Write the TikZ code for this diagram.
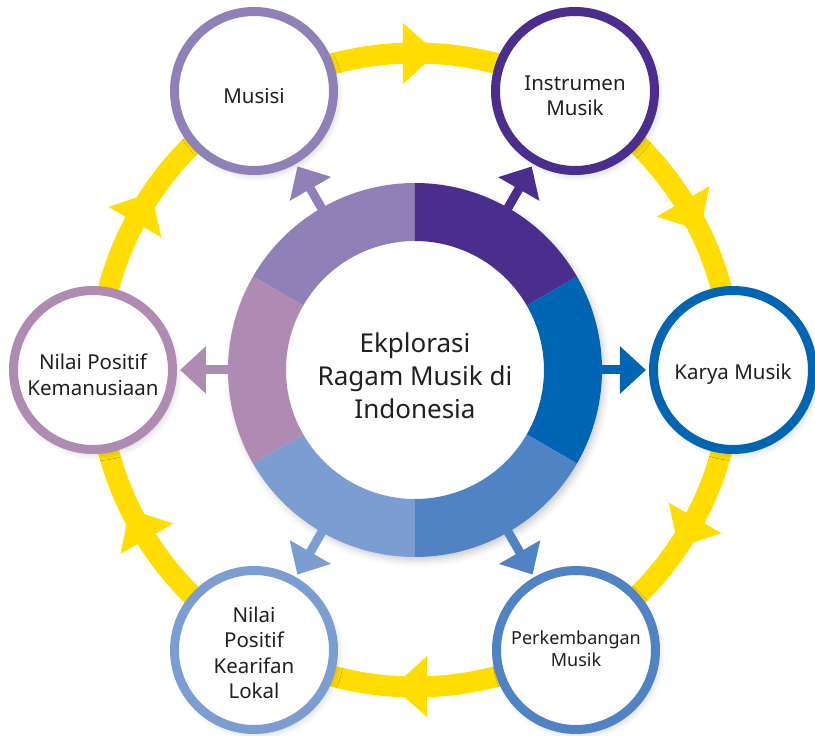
\documentclass[tikz,border=0pt]{standalone}
\usepackage{fontspec}
\setmainfont{Noto Sans}
\usetikzlibrary{arrows.meta,shadows.blur}
\definecolor{cA}{HTML}{9080B8}
\definecolor{cB}{HTML}{4A2D8D}
\definecolor{cC}{HTML}{0066B3}
\definecolor{cD}{HTML}{5083C4}
\definecolor{cE}{HTML}{7C9DD2}
\definecolor{cF}{HTML}{AF8AB3}
\definecolor{ylw}{HTML}{FFDD00}
\definecolor{txt}{HTML}{231F20}
\begin{document}
\begin{tikzpicture}[x=1pt,y=1pt,
  softshadow/.style={blur shadow={shadow xshift=3pt, shadow yshift=-4pt, shadow blur radius=7pt, shadow opacity=22}},
  outer/.style={circle, fill=white, line width=9pt, minimum size=159pt, inner sep=0pt, softshadow},
  outertxt/.style={align=center, text=txt, inner sep=0pt, font=\fontsize{20.5}{25.5}\selectfont},
  link/.style={line width=9pt, -{Triangle[width=46pt,length=26pt]}, shorten >=3pt, shorten <=-3pt},
  ringhead/.style={fill=ylw}
]
\useasboundingbox (-415,-366) rectangle (400,370);
% yellow cycle
\draw[ylw, line width=21pt] (0,0) circle[radius=317pt];
\foreach \a in {90,30,-30,-90,-150,150}
  \fill[ringhead, rotate=\a-90] (-12,286) -- (-12,347) -- (22,317) -- cycle;
% ring segments
\fill[white, softshadow] (0,0) circle[radius=186pt];
\foreach \s/\e/\c in {90/150/cA, 30/90/cB, -30/30/cC, -90/-30/cD, -150/-90/cE, 150/210/cF}
  \fill[\c] (\s:187pt) arc[start angle=\s, end angle=\e, radius=187pt] -- (\e:129pt) arc[start angle=\e, end angle=\s, radius=129pt] -- cycle;
\node[circle, minimum size=374pt, inner sep=0pt] (ctr) at (0,0) {};
\node[align=center, text=txt, inner sep=0pt, font=\fontsize{26}{33}\selectfont] (ctr-t) at ([yshift=-6pt]ctr.center) {Ekplorasi\\Ragam Musik di\\Indonesia};
% outer nodes
\node[outer, draw=cA] (musisi) at (-161,279) {};
\node[outer, draw=cB] (instr) at (160,279) {};
\node[outer, draw=cC] (karya) at (318,0) {};
\node[outer, draw=cD] (perk) at (161,-280) {};
\node[outer, draw=cE] (kear) at (-161,-280) {};
\node[outer, draw=cF] (keman) at (-322,0) {};
\node[outertxt] (musisi-t) at ([yshift=-5pt]musisi.center) {Musisi};
\node[outertxt] (instr-t) at ([yshift=-5pt]instr.center) {Instrumen\\Musik};
\node[outertxt] (karya-t) at ([yshift=-4pt]karya.center) {Karya Musik};
\node[outertxt, font=\fontsize{18}{21.5}\selectfont] (perk-t) at ([yshift=1pt]perk.center) {Perkembangan\\Musik};
\node[outertxt] (kear-t) at ([yshift=-3pt]kear.center) {Nilai\\Positif\\Kearifan\\Lokal};
\node[outertxt] (keman-t) at ([yshift=-5pt]keman.center) {Nilai Positif\\Kemanusiaan};
% links
\draw[link, cA] (ctr) -- (musisi);
\draw[link, cB] (ctr) -- (instr);
\draw[link, cC] (ctr) -- (karya);
\draw[link, cD] (ctr) -- (perk);
\draw[link, cE] (ctr) -- (kear);
\draw[link, cF] (ctr) -- (keman);
\end{tikzpicture}
\end{document}
